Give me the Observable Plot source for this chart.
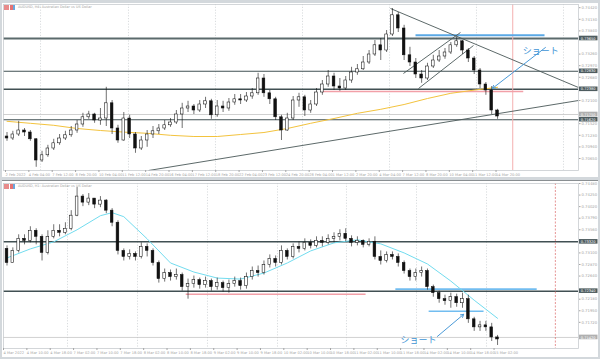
<!DOCTYPE html>
<html><head><meta charset="utf-8">
<script src="https://cdn.jsdelivr.net/npm/d3@7"></script>
<script src="https://cdn.jsdelivr.net/npm/@observablehq/plot@0.6"></script>
<style>
html,body{margin:0;padding:0}
body{width:600px;height:359px;overflow:hidden;background:#d3d8dc;position:relative;font-family:"DejaVu Sans",sans-serif}
.panel{position:absolute;left:2px;width:596px;background:#fff}
#top{top:3px;height:174px}
#bot{top:180px;height:176px;border-top:1px solid #8a8f92}
.ttl{position:absolute;left:18px;font-size:3.4px;color:#a0a0a0;white-space:nowrap}
.ico{position:absolute;width:5px;height:5px}
</style></head><body>
<div id="top" class="panel"></div>
<div id="bot" class="panel"></div>
<div class="ico" style="left:4px;top:5px;background:#e88b8b"></div>
<div class="ico" style="left:10px;top:5px;background:#e57373;border-right:2px solid #6aa6dd;width:3px"></div>
<div class="ttl" style="top:5px">AUDUSD, H4: Australian Dollar vs US Dollar</div>
<div class="ico" style="left:4px;top:184px;background:#e88b8b"></div>
<div class="ico" style="left:10px;top:184px;background:#e57373;border-right:2px solid #6aa6dd;width:3px"></div>
<div class="ttl" style="top:184px">AUDUSD, H1: Australian Dollar vs US Dollar</div>
<script>
// ---------- shared ----------
const XDOM = [-0.6, 97.86];

// ---------- TOP PANEL (H4) ----------
const topTimeLabels = ["2 Feb 2022","4 Feb 04:00","7 Feb 12:00","8 Feb 20:00","10 Feb 04:00","11 Feb 12:00","14 Feb 20:00","16 Feb 04:00","17 Feb 12:00","18 Feb 20:00","22 Feb 04:00","23 Feb 12:00","24 Feb 20:00","28 Feb 04:00","1 Mar 12:00","2 Mar 20:00","4 Mar 04:00","7 Mar 12:00","8 Mar 20:00","10 Mar 04:00","11 Mar 12:00","14 Mar 20:00"];
const topPriceTicks = [0.7442,0.7413,0.7384,0.7326,0.7297,0.7268,0.7210,0.7152,0.7123,0.7094,0.7065];
const topFirstOpen = 0.7120;
const topClose = [0.7115,0.7125,0.7135,0.7130,0.7113,0.7060,0.7073,0.7090,0.7103,0.7115,
0.7123,0.7135,0.7150,0.7168,0.7175,0.7160,0.7165,0.7203,0.7140,0.7110,
0.7165,0.7125,0.7090,0.7110,0.7125,0.7133,0.7140,0.7148,0.7155,0.7175,
0.7190,0.7195,0.7185,0.7200,0.7208,0.7173,0.7195,0.7190,0.7205,0.7213,
0.7210,0.7220,0.7228,0.7265,0.7228,0.7213,0.7168,0.7135,0.7165,0.7210,
0.7218,0.7185,0.7200,0.7230,0.7250,0.7270,0.7245,0.7240,0.7260,0.7280,
0.7288,0.7305,0.7325,0.7348,0.7335,0.7375,0.7423,0.7390,0.7323,0.7305,
0.7275,0.7265,0.7295,0.7310,0.7320,0.7330,0.7348,0.7358,0.7335,0.7315,
0.7285,0.7250,0.7235,0.7185,0.7170];
const topHigh = [0.7130,0.7133,0.7158,0.7140,0.7135,0.7115,0.7083,0.7098,0.7113,0.7125,
0.7133,0.7145,0.7160,0.7178,0.7183,0.7178,0.7190,0.7243,0.7210,0.7148,
0.7180,0.7173,0.7130,0.7120,0.7135,0.7145,0.7150,0.7160,0.7165,0.7185,
0.7203,0.7208,0.7200,0.7210,0.7218,0.7213,0.7210,0.7208,0.7215,0.7225,
0.7225,0.7230,0.7240,0.7278,0.7275,0.7235,0.7218,0.7173,0.7178,0.7220,
0.7228,0.7223,0.7210,0.7240,0.7260,0.7285,0.7278,0.7265,0.7270,0.7293,
0.7300,0.7320,0.7335,0.7360,0.7365,0.7385,0.7440,0.7430,0.7398,0.7343,
0.7315,0.7285,0.7303,0.7323,0.7335,0.7340,0.7355,0.7368,0.7360,0.7340,
0.7320,0.7290,0.7255,0.7245,0.7188];
const topLow = [0.7108,0.7110,0.7120,0.7120,0.7108,0.7043,0.7055,0.7068,0.7085,0.7098,
0.7110,0.7118,0.7128,0.7143,0.7163,0.7153,0.7148,0.7145,0.7125,0.7103,
0.7108,0.7115,0.7078,0.7085,0.7093,0.7115,0.7125,0.7135,0.7143,0.7150,
0.7140,0.7180,0.7175,0.7180,0.7190,0.7163,0.7168,0.7180,0.7183,0.7198,
0.7200,0.7205,0.7213,0.7223,0.7218,0.7200,0.7160,0.7110,0.7133,0.7160,
0.7193,0.7170,0.7178,0.7195,0.7223,0.7243,0.7235,0.7233,0.7235,0.7253,
0.7273,0.7285,0.7300,0.7320,0.7310,0.7330,0.7370,0.7380,0.7310,0.7295,
0.7265,0.7253,0.7260,0.7290,0.7305,0.7313,0.7325,0.7343,0.7325,0.7305,
0.7275,0.7240,0.7223,0.7175,0.7163];
const topMaIdx = [0,4,8,12,16,20,24,28,32,36,40,44,48,52,56,60,64,68,72,76,80,84];
const topMaVal = [0.7158,0.7153,0.7148,0.7140,0.7135,0.7131,0.7128,0.7123,0.7120,0.7120,0.7125,0.7130,0.7140,0.7153,0.7165,0.7178,0.7188,0.7200,0.7215,0.7228,0.7236,0.7243];
const topLevelPrices = [0.7365,0.7283,0.7238,0.7175,0.7162];
const topLevelLabels = ["0.73650","0.72830","0.72380","0.71750","0.71620"];
const topLevelKinds  = ["thick","line","mid","last","line"];
const topGridX = [5.74,20.80,35.70,50.60,65.50,80.39,95.29];
const topTrendX1 = [24.23,65.67,70.46,67.88];
const topTrendY1 = [0.7035,0.7440,0.7240,0.72775];
const topTrendX2 = [97.86,97.86,79.88,77.65];
const topTrendY2 = [0.7210,0.72425,0.73475,0.7380];
const topBlueSeg = {x1:69.95, x2:92.04, y:0.7373};
const topPinkSeg = {x1:54.0, x2:88.4, y:0.72325};
const topRedX = 86.6;
const topArrow = {x1:92.2, y1:0.73425, x2:83.1, y2:0.7240};
const topNote = {x:88.3, y:0.73325, text:"ショート"};

// ---------- BOTTOM PANEL (H1) ----------
const botTimeLabels = ["4 Mar 2022","4 Mar 10:00","4 Mar 18:00","7 Mar 02:00","7 Mar 10:00","7 Mar 18:00","8 Mar 02:00","8 Mar 10:00","8 Mar 18:00","9 Mar 02:00","9 Mar 10:00","9 Mar 18:00","10 Mar 02:00","10 Mar 10:00","10 Mar 18:00","11 Mar 02:00","11 Mar 10:00","11 Mar 18:00","14 Mar 02:00","14 Mar 10:00","14 Mar 18:00","15 Mar 02:00"];
const botPriceTicks = [0.7448,0.7425,0.7402,0.7379,0.7356,0.7310,0.7287,0.7264,0.7218,0.7195,0.7172];
const botFirstOpen = 0.7318;
const botClose = [0.7290,0.7314,0.7338,0.7334,0.7354,0.7342,0.7310,0.7342,0.7354,0.7350,
0.7358,0.7384,0.7422,0.7410,0.7418,0.7406,0.7414,0.7394,0.7370,0.7314,
0.7302,0.7308,0.7302,0.7322,0.7314,0.7290,0.7258,0.7270,0.7262,0.7266,
0.7242,0.7248,0.7256,0.7246,0.7254,0.7242,0.7250,0.7240,0.7248,0.7254,
0.7244,0.7262,0.7274,0.7270,0.7286,0.7298,0.7290,0.7314,0.7302,0.7322,
0.7318,0.7330,0.7324,0.7334,0.7330,0.7338,0.7342,0.7348,0.7338,0.7330,
0.7334,0.7326,0.7332,0.7302,0.7294,0.7306,0.7302,0.7290,0.7274,0.7262,
0.7270,0.7274,0.7242,0.7230,0.7218,0.7214,0.7222,0.7210,0.7218,0.7178,
0.7162,0.7166,0.7162,0.7142,0.7138];
const botHigh = [0.7324,0.7320,0.7346,0.7346,0.7362,0.7358,0.7346,0.7354,0.7366,0.7366,
0.7370,0.7394,0.7440,0.7426,0.7428,0.7418,0.7422,0.7416,0.7398,0.7374,
0.7318,0.7316,0.7312,0.7330,0.7328,0.7318,0.7294,0.7278,0.7276,0.7278,
0.7270,0.7258,0.7264,0.7260,0.7262,0.7258,0.7260,0.7254,0.7256,0.7262,
0.7260,0.7270,0.7282,0.7284,0.7294,0.7306,0.7304,0.7324,0.7318,0.7328,
0.7332,0.7338,0.7336,0.7342,0.7342,0.7346,0.7350,0.7356,0.7358,0.7344,
0.7342,0.7336,0.7338,0.7342,0.7314,0.7312,0.7312,0.7308,0.7294,0.7278,
0.7278,0.7282,0.7278,0.7246,0.7234,0.7226,0.7230,0.7228,0.7230,0.7226,
0.7182,0.7174,0.7174,0.7170,0.7146];
const botLow = [0.7284,0.7290,0.7310,0.7326,0.7330,0.7326,0.7294,0.7306,0.7338,0.7342,
0.7346,0.7354,0.7382,0.7402,0.7404,0.7398,0.7400,0.7388,0.7362,0.7306,
0.7294,0.7296,0.7294,0.7298,0.7302,0.7284,0.7250,0.7252,0.7254,0.7256,
0.7234,0.7218,0.7240,0.7238,0.7240,0.7234,0.7236,0.7232,0.7230,0.7242,
0.7236,0.7238,0.7256,0.7262,0.7266,0.7280,0.7282,0.7286,0.7296,0.7298,
0.7310,0.7314,0.7318,0.7320,0.7322,0.7326,0.7330,0.7334,0.7332,0.7322,
0.7324,0.7320,0.7322,0.7296,0.7286,0.7290,0.7296,0.7282,0.7268,0.7254,
0.7254,0.7262,0.7236,0.7222,0.7210,0.7206,0.7200,0.7202,0.7200,0.7170,
0.7154,0.7154,0.7154,0.7134,0.7126];
const botMaIdx = [0,4,8,12,16,18,20,24,28,32,36,40,44,48,52,56,60,64,68,72,76,80,84];
const botMaVal = [0.7300,0.7318,0.7332,0.7356,0.7384,0.7390,0.7382,0.7338,0.7290,0.7272,0.7260,0.7258,0.7270,0.7290,0.7314,0.7330,0.7336,0.7328,0.7310,0.7288,0.7254,0.7216,0.7180];
const botLevelPrices = [0.7332,0.7234,0.7142];
const botLevelLabels = ["0.73320","0.72340","0.71420"];
const botLevelKinds  = ["mid","mid","last"];
const botGridX = [10.36,22.35,34.33,46.32,58.13,70.12,82.11];
const botBlueX1 = [66.5,72.2];
const botBlueX2 = [90.7,81.6];
const botBlueY  = [0.7238,0.7194];
const botPinkSeg = {x1:30.6, x2:61.4, y:0.7228};
const botRedX = 93.9;
const botArrow = {x1:73.7, y1:0.7144, x2:78.2, y2:0.7188};
const botNote = {x:67.4, y:0.7137, text:"ショート"};

// ---------- helpers ----------
const LEVEL_STYLE = {
  thick:{stroke:"#5b6a6c", w:2.2, box:"#4e5c5f"},
  line:{stroke:"#415053", w:1.1, box:"#4e5c5f"},
  mid:{stroke:"#415053", w:1.5, box:"#4e5c5f"},
  last:{stroke:"#c4c4c4", w:0.8, box:"#b0b0b0"}
};
function candles(first, close, high, low){
  return close.map((c,i)=>({j:i, o: i ? close[i-1] : first, c, h: high[i], l: low[i]}));
}
function levels(prices, labels, kinds){
  return prices.map((v,i)=>({v, label: labels[i], ...LEVEL_STYLE[kinds[i]]}));
}
function panel({height, mt, mb, ydom, data, ma, maColor, lv, gridX, timeLabels, tickOffset, priceTicks, extra}){
  const tickPos = timeLabels.map((_,k)=>4*k + tickOffset);
  return Plot.plot({
    width: 596, height, marginLeft: 1, marginRight: 20, marginTop: mt, marginBottom: mb,
    x: {domain: XDOM, axis: null},
    y: {domain: ydom, axis: null},
    style: {background: "white", fontFamily: "DejaVu Sans, sans-serif", overflow: "visible"},
    marks: [
      Plot.ruleX(gridX, {stroke: "#cfd3d6", strokeDasharray: "1.2,1.6", strokeWidth: 0.8}),
      Plot.ruleY(lv, {y: "v", stroke: d=>d.stroke, strokeWidth: d=>d.w}),
      ...extra.under,
      Plot.line(ma.idx.map((j,i)=>({j, v: ma.val[i]})), {x: "j", y: "v", stroke: maColor, strokeWidth: 1}),
      Plot.ruleX(data, {x: "j", y1: "l", y2: "h", stroke: "#111", strokeWidth: 0.6}),
      Plot.rect(data, {x1: d=>d.j-0.23, x2: d=>d.j+0.23, y1: "o", y2: "c",
        fill: d=> d.c >= d.o ? "white" : "#111", stroke: "#111", strokeWidth: 0.55}),
      ...extra.over,
      Plot.frame({stroke: "#c9cdd0", strokeWidth: 0.8}),
      Plot.axisY(priceTicks, {anchor: "right", tickSize: 1.5, tickPadding: 1.5, fontSize: 3.8, color: "#a4a4a4",
        tickFormat: d=>d.toFixed(5)}),
      Plot.rect(lv, {x1: XDOM[1], x2: XDOM[1], y1: "v", y2: "v", insetLeft: 1, insetRight: -19.5,
        insetTop: -2.3, insetBottom: -2.3, fill: d=>d.box}),
      Plot.text(lv, {x: XDOM[1], y: "v", text: "label", dx: 2.2, textAnchor: "start", fill: "white", fontSize: 3.6}),
      Plot.axisX(tickPos, {anchor: "bottom", tickSize: 2, tickPadding: 1, fontSize: 3.6, color: "#a4a4a4",
        textAnchor: "start", tickFormat: d=>timeLabels[tickPos.indexOf(d)]})
    ]
  });
}

// ---------- top ----------
const topData = candles(topFirstOpen, topClose, topHigh, topLow);
const topTrends = topTrendX1.map((x1,i)=>({x1, y1: topTrendY1[i], x2: topTrendX2[i], y2: topTrendY2[i]}));
const topSvg = panel({
  height: 174, mt: 1, mb: 7, ydom: [0.7035, 0.7450], data: topData,
  ma: {idx: topMaIdx, val: topMaVal}, maColor: "#f3c33e",
  lv: levels(topLevelPrices, topLevelLabels, topLevelKinds), gridX: topGridX,
  timeLabels: topTimeLabels, tickOffset: -0.26, priceTicks: topPriceTicks,
  extra: {
    under: [
      Plot.ruleX([topRedX], {stroke: "#f4b0b0", strokeWidth: 1}),
      Plot.link([topPinkSeg], {x1: "x1", x2: "x2", y1: "y", y2: "y", stroke: "#f2a0a8", strokeWidth: 1.6}),
      Plot.link([topBlueSeg], {x1: "x1", x2: "x2", y1: "y", y2: "y", stroke: "#5aa9e6", strokeWidth: 2}),
      Plot.link(topTrends, {x1: "x1", y1: "y1", x2: "x2", y2: "y2", stroke: "#4a5858", strokeWidth: 0.9})
    ],
    over: [
      Plot.arrow([topArrow], {x1: "x1", y1: "y1", x2: "x2", y2: "y2", stroke: "#4a9ad8", strokeWidth: 1, headLength: 5}),
      Plot.text([topNote], {x: "x", y: "y", text: "text", textAnchor: "start", fill: "#3f95d6", fontSize: 9,
        fontFamily: "Noto Sans CJK JP"})
    ]
  }
});
document.getElementById("top").appendChild(topSvg);

// ---------- bottom ----------
const botData = candles(botFirstOpen, botClose, botHigh, botLow);
const botBlue = botBlueX1.map((x1,i)=>({x1, x2: botBlueX2[i], y: botBlueY[i]}));
const botSvg = panel({
  height: 176, mt: 2, mb: 9, ydom: [0.7120, 0.7448], data: botData,
  ma: {idx: botMaIdx, val: botMaVal}, maColor: "#72dcef",
  lv: levels(botLevelPrices, botLevelLabels, botLevelKinds), gridX: botGridX,
  timeLabels: botTimeLabels, tickOffset: -0.6, priceTicks: botPriceTicks,
  extra: {
    under: [
      Plot.ruleX([botRedX], {stroke: "#e07a7a", strokeWidth: 0.8, strokeDasharray: "2,1.5"}),
      Plot.link([botPinkSeg], {x1: "x1", x2: "x2", y1: "y", y2: "y", stroke: "#f2a0a8", strokeWidth: 1.5}),
      Plot.link(botBlue, {x1: "x1", x2: "x2", y1: "y", y2: "y", stroke: "#72bdf0", strokeWidth: 1.6})
    ],
    over: [
      Plot.arrow([botArrow], {x1: "x1", y1: "y1", x2: "x2", y2: "y2", stroke: "#4a9ad8", strokeWidth: 1, headLength: 5}),
      Plot.text([botNote], {x: "x", y: "y", text: "text", textAnchor: "start", fill: "#3f95d6", fontSize: 9,
        fontFamily: "Noto Sans CJK JP"})
    ]
  }
});
document.getElementById("bot").appendChild(botSvg);
</script>
</body></html>
